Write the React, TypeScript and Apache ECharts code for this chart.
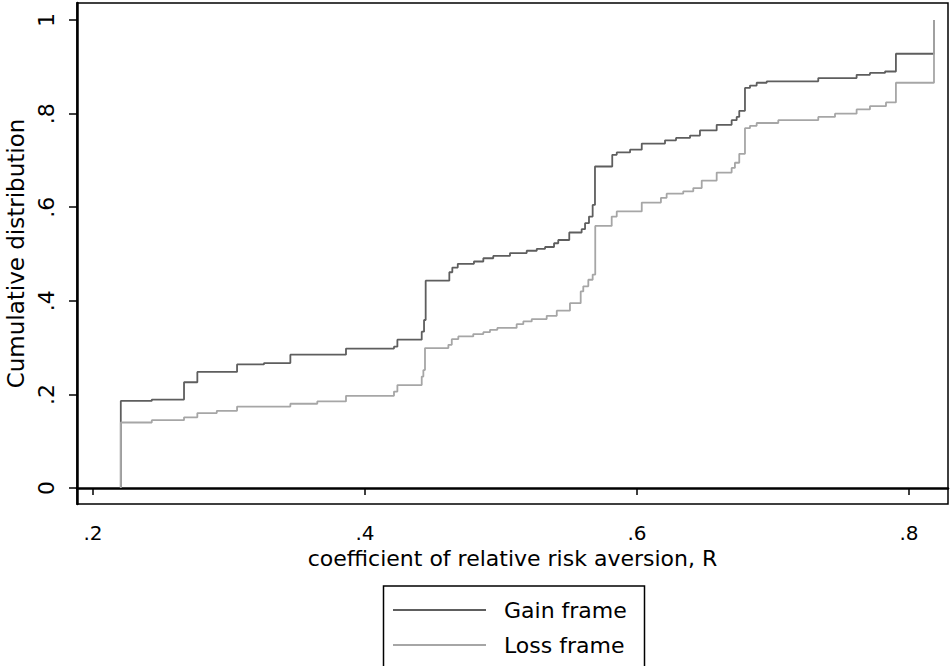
import React, { useEffect, useRef } from "react";
import * as echarts from "echarts";

const seriesNames = ["Gain frame", "Loss frame"];

const gainR = [0.2204, 0.2204, 0.2432, 0.2669, 0.2767, 0.3059, 0.3257, 0.3451, 0.386, 0.4213, 0.4238, 0.4417, 0.4434, 0.4446, 0.462, 0.4642, 0.4682, 0.4801, 0.487, 0.4943, 0.5066, 0.5189, 0.5263, 0.5324, 0.539, 0.5421, 0.5502, 0.5593, 0.5618, 0.5647, 0.5674, 0.5691, 0.5818, 0.5851, 0.5949, 0.6035, 0.6206, 0.6287, 0.639, 0.6463, 0.6586, 0.6696, 0.6733, 0.6752, 0.6794, 0.6831, 0.688, 0.6954, 0.7333, 0.7615, 0.7713, 0.7824, 0.7904, 0.8184];
const gainF = [0, 0.186, 0.189, 0.226, 0.248, 0.264, 0.267, 0.285, 0.298, 0.302, 0.317, 0.334, 0.359, 0.443, 0.461, 0.471, 0.479, 0.484, 0.491, 0.496, 0.502, 0.507, 0.511, 0.515, 0.523, 0.53, 0.546, 0.553, 0.566, 0.58, 0.605, 0.687, 0.712, 0.717, 0.723, 0.736, 0.743, 0.748, 0.753, 0.764, 0.776, 0.786, 0.793, 0.806, 0.855, 0.86, 0.866, 0.869, 0.876, 0.883, 0.887, 0.89, 0.928, 1.0];

const lossR = [0.2204, 0.2204, 0.2432, 0.2669, 0.2767, 0.291, 0.3059, 0.3451, 0.3649, 0.386, 0.4213, 0.4238, 0.4417, 0.4429, 0.4441, 0.4613, 0.4638, 0.4686, 0.4796, 0.487, 0.4919, 0.4973, 0.5115, 0.5164, 0.5226, 0.5336, 0.541, 0.5507, 0.5586, 0.5605, 0.5642, 0.5674, 0.5693, 0.5814, 0.5851, 0.6035, 0.6176, 0.6218, 0.634, 0.6414, 0.6476, 0.6586, 0.6696, 0.672, 0.6752, 0.6794, 0.6831, 0.688, 0.7039, 0.7333, 0.7456, 0.7615, 0.7713, 0.7831, 0.7904, 0.8184];
const lossF = [0, 0.14, 0.145, 0.151, 0.16, 0.165, 0.174, 0.18, 0.185, 0.197, 0.206, 0.22, 0.238, 0.252, 0.299, 0.306, 0.318, 0.324, 0.329, 0.333, 0.338, 0.342, 0.35, 0.356, 0.361, 0.368, 0.379, 0.395, 0.42, 0.431, 0.445, 0.456, 0.56, 0.58, 0.591, 0.61, 0.62, 0.629, 0.634, 0.641, 0.657, 0.674, 0.684, 0.695, 0.714, 0.769, 0.774, 0.78, 0.786, 0.793, 0.8, 0.809, 0.816, 0.824, 0.866, 1.0];

const xTicks = [0.2, 0.4, 0.6, 0.8];
const yTicks = [0, 0.2, 0.4, 0.6, 0.8, 1];
const xTitle = "coefficient of relative risk aversion, R";
const yTitle = "Cumulative distribution";

const fmt = (v: number) => {
  const r = Math.round(v * 1000) / 1000;
  if (r === 0) return "0";
  if (r === 1) return "1";
  return String(r).replace(/^0/, "");
};

const FONT = "DejaVu Sans";
const GAIN_COLOR = "#5e5e5e";
const LOSS_COLOR = "#a6a6a6";

export default function App() {
  const ref = useRef<HTMLDivElement>(null);
  useEffect(() => {
    if (!ref.current) return;
    const chart = echarts.init(ref.current, undefined, { renderer: "svg" });
    const zip = (xs: number[], ys: number[]) => xs.map((x, i) => [x, ys[i]]);
    chart.setOption({
      animation: false,
      backgroundColor: "#fff",
      textStyle: { fontFamily: FONT },
      grid: {
        left: 77,
        right: 3,
        top: 3,
        bottom: 162,
        outerBoundsMode: "none",
        containLabel: false,
        show: true,
        borderColor: "#000",
        borderWidth: 1.5,
        backgroundColor: "#fff",
      },
      graphic: [
        {
          type: "rect",
          shape: { x: 383.5, y: 586, width: 261, height: 100 },
          style: { fill: "none", stroke: "#000", lineWidth: 1.5 },
          silent: true,
          z: 1,
        },
      ],
      legend: {
        data: seriesNames,
        orient: "vertical",
        left: 393,
        top: 599,
        icon: "path://M0 0H100V2H0Z",
        itemWidth: 93,
        itemHeight: 20,
        itemGap: 13,
        padding: 0,
        textStyle: {
          fontFamily: FONT,
          fontSize: 22,
          color: "#000",
          padding: [0, 0, 0, 13],
        },
      },
      xAxis: {
        type: "value",
        min: 0.1882,
        max: 0.8287,
        name: xTitle,
        nameLocation: "middle",
        nameGap: 37,
        nameTextStyle: { fontFamily: FONT, fontSize: 22, color: "#000" },
        splitLine: { show: false },
        axisLine: { show: true, lineStyle: { color: "#000", width: 2.5 } },
        axisTick: {
          show: true,
          length: 7,
          lineStyle: { color: "#000", width: 1.5 },
          customValues: xTicks,
        },
        axisLabel: {
          customValues: xTicks,
          formatter: (v: number) => fmt(v),
          margin: 19,
          fontFamily: FONT,
          fontSize: 20,
          color: "#000",
        },
      },
      yAxis: {
        type: "value",
        min: -0.0342,
        max: 1.0364,
        name: yTitle,
        nameLocation: "middle",
        nameRotate: 90,
        nameGap: 49,
        nameTextStyle: { fontFamily: FONT, fontSize: 23, color: "#000" },
        splitLine: { show: false },
        axisLine: { show: true, lineStyle: { color: "#000", width: 2.5 } },
        axisTick: {
          show: true,
          length: 8,
          lineStyle: { color: "#000", width: 1.5 },
          customValues: yTicks,
        },
        axisLabel: {
          customValues: yTicks,
          formatter: (v: number) => fmt(v),
          rotate: 90,
          margin: 20,
          fontFamily: FONT,
          fontSize: 22,
          color: "#000",
        },
      },
      series: [
        {
          name: seriesNames[0],
          type: "line",
          step: "end",
          symbol: "none",
          data: zip(gainR, gainF),
          lineStyle: { color: GAIN_COLOR, width: 1.8 },
          itemStyle: { color: GAIN_COLOR },
          z: 2,
        },
        {
          name: seriesNames[1],
          type: "line",
          step: "end",
          symbol: "none",
          data: zip(lossR, lossF),
          lineStyle: { color: LOSS_COLOR, width: 1.8 },
          itemStyle: { color: LOSS_COLOR },
          z: 3,
        },
      ],
    });
    return () => chart.dispose();
  }, []);
  return (
    <div
      ref={ref}
      style={{ position: "fixed", left: 0, top: 0, width: 951, height: 666, background: "#fff" }}
    />
  );
}
